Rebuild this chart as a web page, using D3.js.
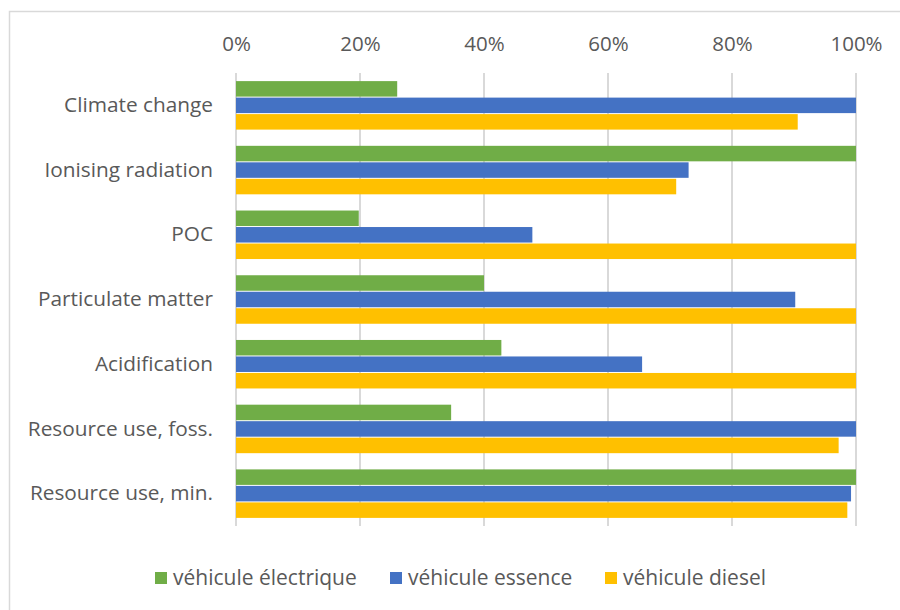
<!DOCTYPE html>
<html>
<head>
<meta charset="utf-8">
<script src="https://cdn.jsdelivr.net/npm/d3@7"></script>
<style>
  body { margin: 0; background: #fff; }
  text { font-family: "Open Sans", "Noto Sans", sans-serif; fill: #595959; }
</style>
</head>
<body>
<script>
var width = 900, height = 610;

//Chart data (share of the worst vehicle per impact)
var categories = ["Climate change", "Ionising radiation", "POC", "Particulate matter",
  "Acidification", "Resource use, foss.", "Resource use, min."];
var seriesNames = ["véhicule électrique", "véhicule essence", "véhicule diesel"];
var electrique = [0.26, 1.00, 0.198, 0.40, 0.428, 0.347, 1.00];
var essence    = [1.00, 0.73, 0.478, 0.902, 0.655, 1.00, 0.992];
var diesel     = [0.906, 0.71, 1.00, 1.00, 1.00, 0.972, 0.986];
var xTicks = [0, 0.2, 0.4, 0.6, 0.8, 1.0];
var colors = ["#70AD47", "#4472C4", "#FFC000"];

var series = [electrique, essence, diesel];

var margin = {left: 236, right: 44, top: 73, bottom: 84};

var svg = d3.select("body").append("svg").attr("width", width).attr("height", height);

//Chart border
svg.append("rect")
  .attr("x", 9.5).attr("y", 11.5)
  .attr("width", width + 10).attr("height", height + 10)
  .attr("fill", "none").attr("stroke", "#d9d9d9").attr("stroke-width", 1.5);

var x = d3.scaleLinear().domain([0, 1]).range([margin.left, width - margin.right]);
var y = d3.scaleBand().domain(categories)
  .range([margin.top, height - margin.bottom])
  .paddingInner(0.22).paddingOuter(0.11);
var ySub = d3.scaleBand().domain(d3.range(3)).range([0, y.bandwidth()]).padding(0.06);

//Gridlines
svg.append("g").selectAll("line")
  .data(xTicks).enter().append("line")
  .attr("x1", function(d) { return x(d); }).attr("x2", function(d) { return x(d); })
  .attr("y1", margin.top).attr("y2", height - margin.bottom)
  .attr("stroke", "#d9d9d9").attr("stroke-width", 2);

//Top axis labels
var xAxis = svg.append("g")
  .attr("transform", "translate(0," + 51 + ")")
  .call(d3.axisTop(x).tickValues(xTicks).tickFormat(d3.format(".0%")).tickSize(0).tickPadding(0));
xAxis.select(".domain").remove();
xAxis.selectAll("text").attr("font-size", 20.5).style("font-family", "'Open Sans', sans-serif").attr("fill", "#595959");

//Category labels
var yAxis = svg.append("g")
  .attr("transform", "translate(" + (margin.left - 23) + ",0)")
  .call(d3.axisLeft(y).tickSize(0).tickPadding(0));
yAxis.select(".domain").remove();
yAxis.selectAll("text").attr("font-size", 20.8).style("font-family", "'Open Sans', sans-serif").attr("fill", "#595959");

//Bars
var groups = svg.append("g").selectAll("g")
  .data(categories).enter().append("g")
  .attr("transform", function(d) { return "translate(0," + y(d) + ")"; });

groups.selectAll("rect")
  .data(function(d, i) { return series.map(function(s, j) { return {v: s[i], j: j}; }); })
  .enter().append("rect")
  .attr("x", x(0))
  .attr("y", function(d) { return ySub(d.j); })
  .attr("width", function(d) { return x(d.v) - x(0); })
  .attr("height", ySub.bandwidth())
  .attr("fill", function(d) { return colors[d.j]; });

//Legend
var legendX = [155, 390, 605];
var legend = svg.append("g").selectAll("g")
  .data(seriesNames).enter().append("g")
  .attr("transform", function(d, i) { return "translate(" + legendX[i] + ",578)"; });
legend.append("rect")
  .attr("x", 0).attr("y", -6).attr("width", 12).attr("height", 12)
  .attr("fill", function(d, i) { return colors[i]; });
legend.append("text")
  .attr("x", 18).attr("dy", "0.35em")
  .attr("font-size", 21)
  .text(function(d) { return d; });
</script>
</body>
</html>
